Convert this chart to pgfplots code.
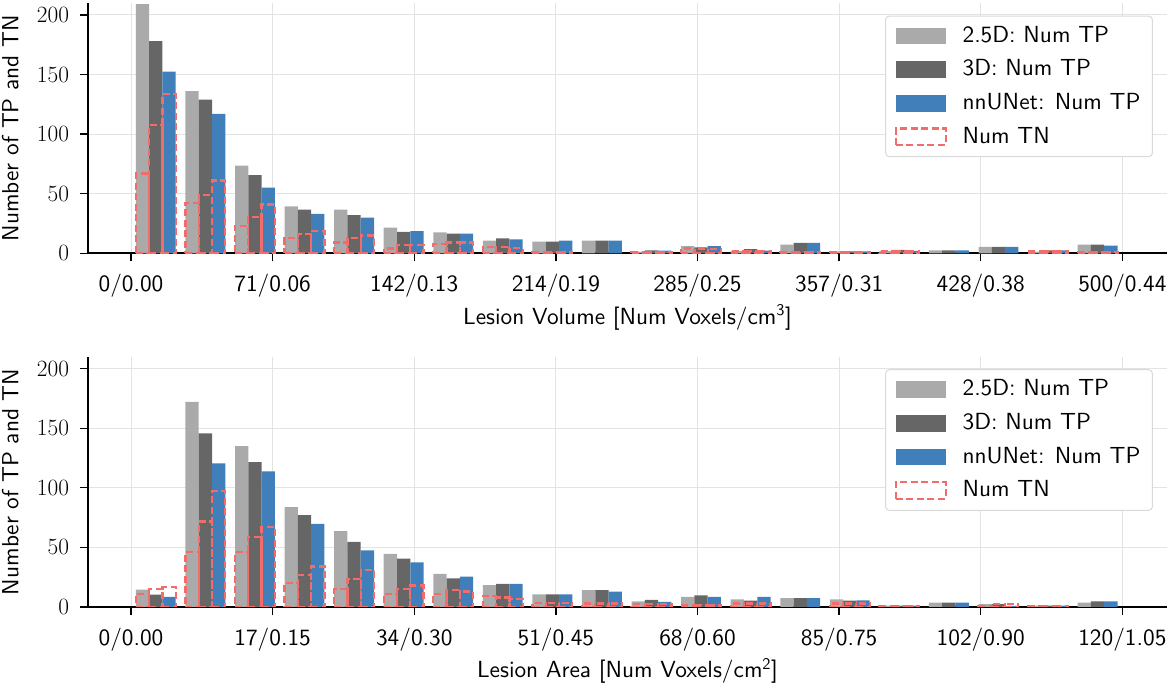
\documentclass[border=0pt]{standalone}
\usepackage{fix-cm}
\usepackage{fontspec}
\setmainfont{lmsans10-regular.otf}
\setsansfont{lmsans10-regular.otf}
\usepackage{pgfplots}
\usepackage{pgfplotstable}
\pgfplotsset{compat=1.18}
\definecolor{cg}{RGB}{170,170,170}
\definecolor{cd}{RGB}{102,102,102}
\definecolor{cb}{RGB}{64,127,186}
\definecolor{tnred}{RGB}{242,108,108}

\pgfplotstableread{
x g d b tg td tb
0.5 209 178 152.5 67 107.5 133.5
1.5 136 129 117 42.5 48.6 61
2.5 73.5 65.6 55 23 30.7 41
3.5 39.4 36.6 33 13 16 19
4.5 36.6 32 30 9 13 15
5.5 21.5 18 18.7 4 6.7 6.7
6.5 17.6 16.5 16.5 7.5 9 9
7.5 10.6 12.6 11.7 5 5 4.5
8.5 9.8 9.8 10.6 1 1 1
9.5 10.6 10.6 10.6 nan nan nan
10.5 1.4 2.5 2.2 1 1 1
11.5 6.1 5 6.1 4 4 3.5
12.5 2 3.4 2.2 2 2 2
13.5 7.3 8.7 8.7 1 1 1
14.5 1.7 1.7 1.7 1 1 1
15.5 2 2.8 2 2.2 2.2 2.2
16.5 2.5 2.5 2.5 nan nan nan
17.5 5.3 5.3 5.3 nan nan nan
18.5 1.4 2.5 2.5 1.5 1.5 1.5
19.5 7.3 7.3 6.4 1 1 1
}\voltab

\pgfplotstableread{
x g d b tg td tb
0.5 14.6 10.4 8.4 11 15.4 17
1.5 172 145.7 120.4 46 71.7 97
2.5 135 121.6 113.7 46 58.8 67
3.5 83.8 77 69.7 20 27 34
4.5 63.6 54.6 47.6 15 23.5 31
5.5 44.5 40.6 37.5 11 15 18
6.5 27.7 24 25.5 11 14.3 13
7.5 18.4 19.3 19.3 9 8 7
8.5 10.6 10.6 10.6 3.4 3.4 3.4
9.5 14.2 14.2 13 3 3 3
10.5 4.7 5.9 4.2 2.5 2.5 2.5
11.5 8.4 9.8 8.4 1.4 1.4 1.4
12.5 6.4 5.3 8.4 3 3 3
13.5 7.5 7.5 7.5 nan nan nan
14.5 6.4 5.3 5.6 3 3 3
15.5 1.1 1.1 1.1 1 1 1
16.5 3.6 3.6 3.6 nan nan nan
17.5 2.5 2.5 1 1 2.5 2.5
18.5 1.1 1.1 1.1 1 1 1
19.5 3.6 4.7 4.7 nan nan nan
}\areatab

\pgfplotsset{
  tp/.style={ybar, bar width=0.268, draw=none, fill=#1,
    legend image code/.code={\fill[##1, draw=none, sharp corners] (0bp,-8.3bp) rectangle (50bp,8.3bp);
      \path[draw=none, fill=none] (0bp,0bp) -- (64bp,0bp);}},
  tn/.style={ybar, bar width=0.268, draw=tnred, fill=none, line width=2.2bp, dash pattern=on 7bp off 3.5bp,
    legend image code/.code={\draw[##1, fill=none, sharp corners] (0bp,-8.3bp) rectangle (50bp,8.3bp);
      \path[draw=none, fill=none] (0bp,0bp) -- (64bp,0bp);}},
  panel/.style={
    scale only axis, width=1079bp, height=250.3bp,
    xmin=-0.868, xmax=20.9, ymin=0, ymax=210,
    axis x line*=bottom, axis y line*=left,
    axis line style={line width=1.6bp, black},
    tick align=outside, major tick length=8bp,
    tick style={black, line width=1.3bp},
    xtick={0,2.857142857,5.714285714,8.571428571,11.42857143,14.28571429,17.14285714,20},
    ytick={0,50,100,150,200},
    grid=major, grid style={black!11, line width=1bp},
    xticklabel style={font=\sffamily, yshift=-5bp},
    yticklabel style={xshift=-3bp},
    label style={font=\sffamily},
    ylabel={Number of TP and TN},
    ylabel style={at={(axis description cs:-0.0646,0.5)}, anchor=base},
    xlabel style={at={(axis description cs:0.5,-0.2825)}, anchor=base},
    legend cell align=left,
    legend style={at={(rel axis cs:0.987,0.95)}, anchor=north east,
      draw=black!15, line width=1bp, rounded corners=4bp,
      fill=white, font=\sffamily,
      inner xsep=9bp, inner ysep=7bp, row sep=8bp,
      nodes={inner sep=3bp}},
  },
}

\begin{document}
\fontsize{23.4}{28}\selectfont
\begin{tikzpicture}
\useasboundingbox (0,0) rectangle (1169bp,687bp);
\begin{axis}[panel, at={(88bp,433.7bp)}, anchor=south west,
  xlabel={Lesion Volume [Num Voxels/cm\textsuperscript{3}]},
  xticklabel={\mbox{\sffamily\ifcase\ticknum\relax 0/0.00\or 71/0.06\or 142/0.13\or 214/0.19\or 285/0.25\or 357/0.31\or 428/0.38\or 500/0.44\fi}}]
\addplot[tp=cg, bar shift=-0.268] table[x=x,y=g]{\voltab};
\addlegendentry{2.5D: Num TP}
\addplot[tp=cd, bar shift=0] table[x=x,y=d]{\voltab};
\addlegendentry{3D: Num TP}
\addplot[tp=cb, bar shift=0.268] table[x=x,y=b]{\voltab};
\addlegendentry{nnUNet: Num TP}
\addplot[tn, bar shift=-0.268] table[x=x,y=tg]{\voltab};
\addlegendentry{Num TN}
\addplot[tn, bar shift=0, forget plot] table[x=x,y=td]{\voltab};
\addplot[tn, bar shift=0.268, forget plot] table[x=x,y=tb]{\voltab};
\end{axis}
\begin{axis}[panel, at={(88bp,80bp)}, anchor=south west,
  xlabel={Lesion Area [Num Voxels/cm\textsuperscript{2}]},
  xticklabel={\mbox{\sffamily\ifcase\ticknum\relax 0/0.00\or 17/0.15\or 34/0.30\or 51/0.45\or 68/0.60\or 85/0.75\or 102/0.90\or 120/1.05\fi}}]
\addplot[tp=cg, bar shift=-0.268] table[x=x,y=g]{\areatab};
\addlegendentry{2.5D: Num TP}
\addplot[tp=cd, bar shift=0] table[x=x,y=d]{\areatab};
\addlegendentry{3D: Num TP}
\addplot[tp=cb, bar shift=0.268] table[x=x,y=b]{\areatab};
\addlegendentry{nnUNet: Num TP}
\addplot[tn, bar shift=-0.268] table[x=x,y=tg]{\areatab};
\addlegendentry{Num TN}
\addplot[tn, bar shift=0, forget plot] table[x=x,y=td]{\areatab};
\addplot[tn, bar shift=0.268, forget plot] table[x=x,y=tb]{\areatab};
\end{axis}
\end{tikzpicture}
\end{document}
